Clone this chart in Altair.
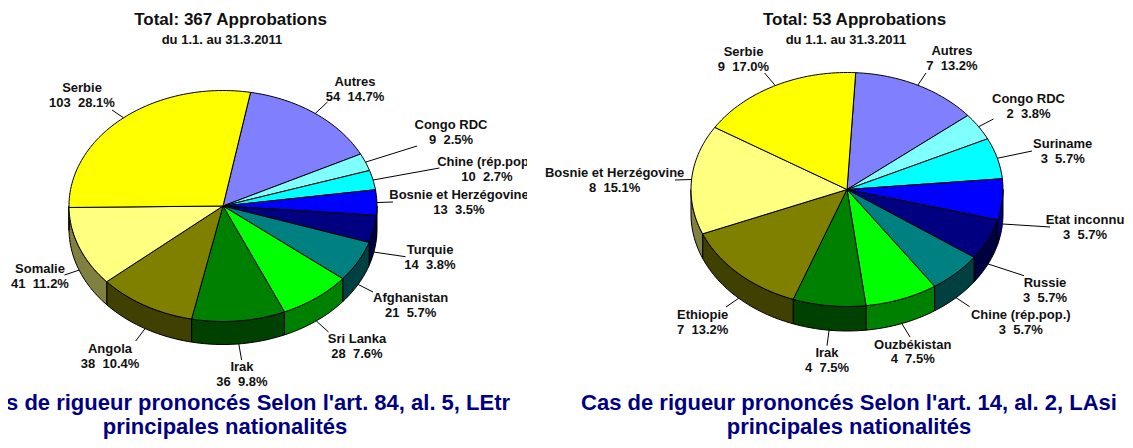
import math
import altair as alt
import pandas as pd

# ---- data ----
left_names = ["Autres", "Congo RDC", "Chine (rép.pop.)", "Bosnie et Herzégovine", "Turquie", "Afghanistan",
              "Sri Lanka", "Irak", "Angola", "Somalie", "Serbie"]
left_counts = [54, 9, 10, 13, 14, 21, 28, 36, 38, 41, 103]
left_pcts = ["14.7%", "2.5%", "2.7%", "3.5%", "3.8%", "5.7%", "7.6%", "9.8%", "10.4%", "11.2%", "28.1%"]

right_names = ["Autres", "Congo RDC", "Suriname", "Etat inconnu", "Russie", "Chine (rép.pop.)",
               "Ouzbékistan", "Irak", "Ethiopie", "Bosnie et Herzégovine", "Serbie"]
right_counts = [7, 2, 3, 3, 3, 3, 4, 4, 7, 8, 9]
right_pcts = ["13.2%", "3.8%", "5.7%", "5.7%", "5.7%", "5.7%", "7.5%", "7.5%", "13.2%", "15.1%", "17.0%"]

left_titles = ["Total: 367 Approbations", "du 1.1. au 31.3.2011"]
right_titles = ["Total: 53 Approbations", "du 1.1. au 31.3.2011"]
left_caption = ["Cas de rigueur prononcés Selon l'art. 84, al. 5, LEtr", "principales nationalités"]
right_caption = ["Cas de rigueur prononcés Selon l'art. 14, al. 2, LAsi", "principales nationalités"]

top_colors = ["#8080FF", "#80FFFF", "#00FFFF", "#0000FF", "#000080", "#008080",
              "#00FF00", "#008000", "#808000", "#FFFF80", "#FFFF00"]
wall_colors = ["#404080", "#408080", "#008080", "#000080", "#000040", "#004040",
               "#008000", "#004000", "#404000", "#808040", "#808000"]

# ---- layout ----
Y_END = 440
left_layout = dict(cx=223, cy=206, rx=154, ry=115.5, depth=23, start=10.3,
                   x0=8, x1=527, title_x=[230.5, 222], caption_x=[244, 225])
right_layout = dict(cx=847, cy=189.5, rx=156, ry=117, depth=24.5, start=3.2,
                    x0=527, x1=1125, title_x=[854.5, 846], caption_x=[849, 849])

left_lab_x = [355, 451, 487, 459, 430, 410.6, 357, 242, 110, 40, 82]
left_lab_y = [82, 125, 162, 195, 250, 298, 339, 367, 349, 269, 88]
left_lead_x = [327.5, 417, 439.4, 393, 405.5, 373, 328.5, 241.6, 135.7, 64.5, 112]
left_lead_y = [102, 146, 168, 202, 256.7, 292, 332, 360, 341, 275, 110]

right_lab_x = [952, 1028.5, 1062.7, 1085, 1045, 1020.8, 912.7, 827, 702.7, 614.6, 743.5]
right_lab_y = [51, 99, 144, 220, 283, 315, 344.5, 353, 315, 173, 52]
right_lead_x = [926, 993.5, 1032, 1050, 1024, 969.6, 910, 827, 726, 675, 764.6]
right_lead_y = [73, 119, 151, 227, 275.7, 306.7, 337, 345.7, 307, 180, 73]

FONT = "Liberation Sans"
LABEL_SIZE = 13


def panel(names, counts, pcts, titles, caption, layout, lab_x, lab_y, lead_x, lead_y):
    cx, cy, rx, ry, depth, start = (layout[k] for k in ("cx", "cy", "rx", "ry", "depth", "start"))
    total = sum(counts)
    xs = alt.Scale(domain=[layout["x0"], layout["x1"]], nice=False, zero=False)
    ys = alt.Scale(domain=[Y_END, 8], nice=False, zero=False)
    X = alt.X("x:Q", scale=xs, axis=None)
    Y = alt.Y("y:Q", scale=ys, axis=None)

    def pt(theta, off=0.0):
        r = math.radians(theta)
        return cx + rx * math.sin(r), cy - ry * math.cos(r) + off

    def arc(a, b, off=0.0):
        n = max(2, int(abs(b - a) / 1.5) + 1)
        return [pt(a + (b - a) * i / n, off) for i in range(n + 1)]

    bounds = []
    a = start
    for c in counts:
        b = a + 360.0 * c / total
        bounds.append((a, b))
        a = b

    def poly(points, fill):
        rows = [{"x": p[0], "y": p[1], "i": i} for i, p in enumerate(points + points[:1])]
        return alt.Chart(pd.DataFrame(rows)).mark_line(
            fill=fill, stroke="black", strokeWidth=1, strokeJoin="round"
        ).encode(x=X, y=Y, order=alt.Order("i:Q"))

    layers = []
    for (a, b), col in zip(bounds, wall_colors):
        for shift in (0, 360):
            lo, hi = max(a, 90 + shift), min(b, 270 + shift)
            if hi > lo:
                layers.append(poly(arc(lo, hi) + arc(hi, lo, depth), col))
    for (a, b), col in zip(bounds, top_colors):
        layers.append(poly([(cx, cy)] + arc(a, b), col))

    for (a, b), lx, ly in zip(bounds, lead_x, lead_y):
        m = (a + b) / 2
        off = depth if 90 < (m % 360) < 270 else 0
        p = pt(m, off)
        rows = pd.DataFrame([{"x": p[0], "y": p[1], "i": 0}, {"x": lx, "y": ly, "i": 1}])
        layers.append(alt.Chart(rows).mark_line(color="black", strokeWidth=1).encode(
            x=X, y=Y, order=alt.Order("i:Q")))

    rows = []
    for n, c, p, x, y in zip(names, counts, pcts, lab_x, lab_y):
        rows.append({"x": x, "y": y, "t": n})
        rows.append({"x": x, "y": y + 14.5, "t": f"{c}\u00a0\u00a0{p}"})
    layers.append(alt.Chart(pd.DataFrame(rows)).mark_text(
        font=FONT, fontWeight="bold", fontSize=LABEL_SIZE, color="#111111", clip=True, baseline="middle"
    ).encode(x=X, y=Y, text="t:N"))

    for t, x, y, size in zip(titles, layout["title_x"], [20, 40], [17, 13]):
        layers.append(alt.Chart(pd.DataFrame([{"x": x, "y": y, "t": t}])).mark_text(
            font=FONT, fontWeight="bold", fontSize=size, color="#111111", clip=True, baseline="middle"
        ).encode(x=X, y=Y, text="t:N"))
    for t, x, y in zip(caption, layout["caption_x"], [403, 427]):
        layers.append(alt.Chart(pd.DataFrame([{"x": x, "y": y, "t": t}])).mark_text(
            font=FONT, fontWeight="bold", fontSize=22, color="#000080", clip=True, baseline="middle"
        ).encode(x=X, y=Y, text="t:N"))

    return alt.layer(*layers).properties(width=layout["x1"] - layout["x0"], height=Y_END - 8)


chart = alt.hconcat(
    panel(left_names, left_counts, left_pcts, left_titles, left_caption, left_layout,
          left_lab_x, left_lab_y, left_lead_x, left_lead_y),
    panel(right_names, right_counts, right_pcts, right_titles, right_caption, right_layout,
          right_lab_x, right_lab_y, right_lead_x, right_lead_y),
    spacing=0,
).resolve_scale(x="independent", y="independent").properties(
    padding=0, background="white"
).configure_view(strokeWidth=0).configure_concat(spacing=0)

chart.save("out.html", embed_options={"renderer": "svg", "actions": False})
